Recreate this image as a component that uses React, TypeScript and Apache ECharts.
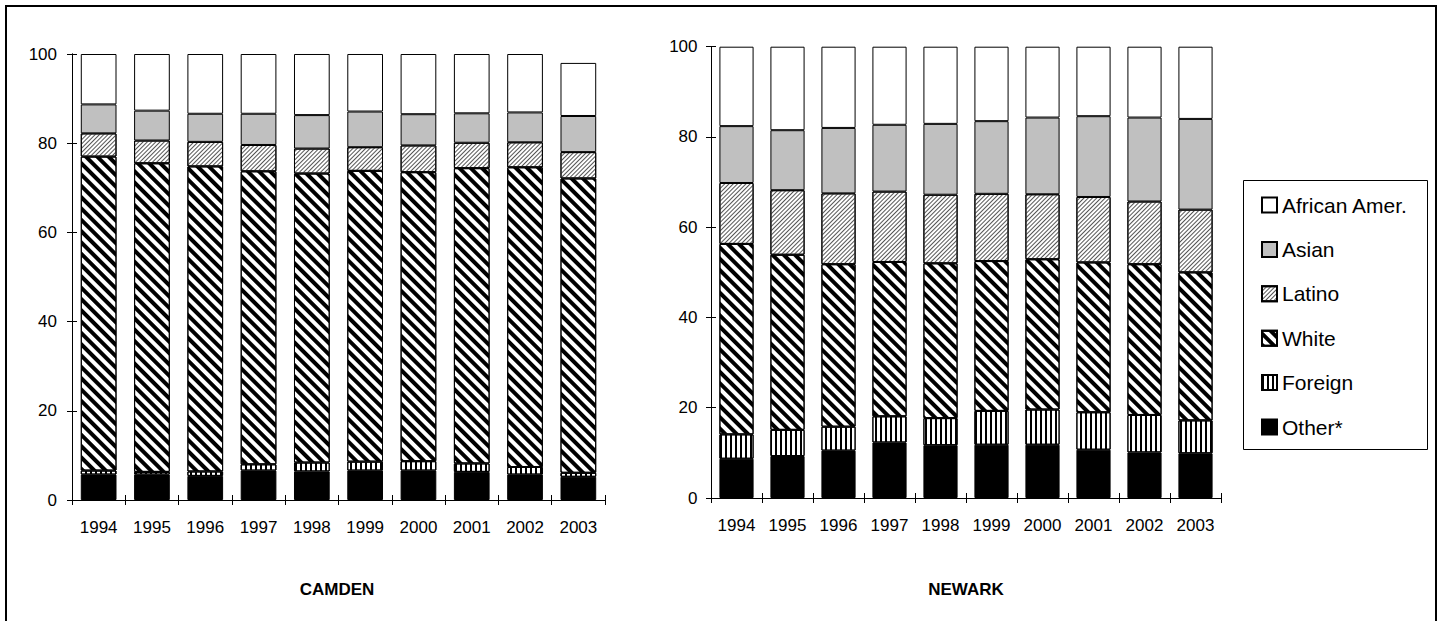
import React, { useEffect, useRef } from "react";
import * as echarts from "echarts";

const years = ["1994", "1995", "1996", "1997", "1998", "1999", "2000", "2001", "2002", "2003"];
const legendOrder = ["African Amer.", "Asian", "Latino", "White", "Foreign", "Other*"];

const camdenOther = [5.7, 5.7, 5.4, 6.6, 6.4, 6.6, 6.6, 6.3, 5.7, 5.2];
const camdenForeign = [0.9, 0.6, 1.0, 1.4, 2.0, 2.0, 2.1, 1.9, 1.7, 0.9];
const camdenWhite = [70.4, 69.2, 68.4, 65.7, 64.8, 65.2, 64.8, 66.2, 67.2, 66.0];
const camdenLatino = [5.2, 5.1, 5.5, 5.9, 5.6, 5.3, 6.0, 5.7, 5.6, 5.9];
const camdenAsian = [6.5, 6.7, 6.3, 7.0, 7.5, 8.0, 7.0, 6.6, 6.7, 8.1];
const camdenAfrican = [11.3, 12.7, 13.4, 13.4, 13.7, 12.9, 13.5, 13.3, 13.1, 11.9];

const newarkOther = [8.7, 9.3, 10.5, 12.3, 11.7, 11.8, 11.8, 10.7, 10.1, 9.9];
const newarkForeign = [5.4, 5.8, 5.3, 5.8, 6.0, 7.5, 7.8, 8.3, 8.3, 7.3];
const newarkWhite = [42.2, 38.8, 36.0, 34.2, 34.3, 33.2, 33.3, 33.2, 33.4, 32.8];
const newarkLatino = [13.5, 14.3, 15.7, 15.6, 15.2, 14.9, 14.4, 14.5, 13.9, 13.9];
const newarkAsian = [12.6, 13.3, 14.5, 14.8, 15.7, 16.1, 17.0, 17.9, 18.6, 20.1];
const newarkAfrican = [17.6, 18.5, 18.0, 17.3, 17.1, 16.5, 15.7, 15.4, 15.7, 16.0];

const FONT = "'Liberation Sans', Arial, sans-serif";

const styleFor: Record<string, any> = {
  "Other*": { color: "#000000" },
  Foreign: {
    color: "#ffffff",
    decal: {
      symbol: "rect",
      symbolSize: 1,
      color: "#000000",
      backgroundColor: "#ffffff",
      dashArrayX: [2, 3],
      dashArrayY: [1, 0],
      rotation: 0,
    },
  },
  White: {
    color: "#ffffff",
    decal: {
      symbol: "rect",
      symbolSize: 1,
      color: "#000000",
      backgroundColor: "#ffffff",
      dashArrayX: [1, 0],
      dashArrayY: [4, 4],
      rotation: Math.PI / 4,
    },
  },
  Latino: {
    color: "#ffffff",
    decal: {
      symbol: "rect",
      symbolSize: 1,
      color: "#555555",
      backgroundColor: "#ffffff",
      dashArrayX: [1, 0],
      dashArrayY: [1, 2],
      rotation: -Math.PI / 4,
    },
  },
  Asian: { color: "#c0c0c0" },
  "African Amer.": { color: "#ffffff" },
};

function makeSeries(gridIdx: number, stack: string, data: Record<string, number[]>) {
  const order = ["Other*", "Foreign", "White", "Latino", "Asian", "African Amer."];
  return order.map((name) => ({
    type: "bar",
    name,
    stack,
    xAxisIndex: gridIdx * 2,
    yAxisIndex: gridIdx * 2,
    barCategoryGap: "33%",
    data: data[name],
    itemStyle: {
      ...styleFor[name],
      borderColor: "#000000",
      borderWidth: 1,
    },
    emphasis: { disabled: true },
  }));
}

function axesFor(gridIdx: number, labelMargin: number) {
  const baseX = {
    type: "category",
    gridIndex: gridIdx,
    data: years,
    position: "bottom",
    axisLine: { show: true, lineStyle: { color: "#000", width: 1 } },
  };
  const baseY = {
    type: "value",
    gridIndex: gridIdx,
    min: 0,
    max: 100,
    interval: 20,
    position: "left",
    splitLine: { show: false },
    axisLine: { show: true, lineStyle: { color: "#000", width: 1 } },
  };
  const xs = [
    {
      ...baseX,
      axisTick: { show: true, length: 5, inside: false, lineStyle: { color: "#000" } },
      axisLabel: { color: "#000", fontSize: 17, fontFamily: FONT, margin: 19 },
    },
    {
      ...baseX,
      axisTick: { show: true, length: 5, inside: true, lineStyle: { color: "#000" } },
      axisLabel: { show: false },
    },
  ];
  const ys = [
    {
      ...baseY,
      axisTick: { show: true, length: 5, inside: false, lineStyle: { color: "#000" } },
      axisLabel: { color: "#000", fontSize: 17, fontFamily: FONT, margin: labelMargin },
    },
    {
      ...baseY,
      axisTick: { show: true, length: 5, inside: true, lineStyle: { color: "#000" } },
      axisLabel: { show: false },
    },
  ];
  return { xs, ys };
}

export default function App() {
  const ref = useRef<HTMLDivElement>(null);

  useEffect(() => {
    document.body.style.margin = "0";
    if (!ref.current) return;
    const chart = echarts.init(ref.current, undefined, { renderer: "svg" });

    const a0 = axesFor(0, 15);
    const a1 = axesFor(1, 13.5);

    const option: any = {
      animation: false,
      backgroundColor: "#ffffff",
      textStyle: { fontFamily: FONT },
      grid: [
        { left: 72, top: 54, width: 533, height: 446, containLabel: false },
        { left: 711, top: 46.7, width: 510, height: 451.3, containLabel: false },
      ],
      xAxis: [...a0.xs, ...a1.xs],
      yAxis: [...a0.ys, ...a1.ys],
      legend: {
        data: legendOrder,
        orient: "vertical",
        left: 1261,
        top: 194,
        padding: 0,
        itemWidth: 15,
        itemHeight: 15,
        itemGap: 22.4,
        icon: "rect",
        selectedMode: false,
        textStyle: { color: "#000", fontSize: 21, fontFamily: FONT, lineHeight: 22 },
      },
      series: [
        ...makeSeries(0, "camden", {
          "Other*": camdenOther,
          Foreign: camdenForeign,
          White: camdenWhite,
          Latino: camdenLatino,
          Asian: camdenAsian,
          "African Amer.": camdenAfrican,
        }),
        ...makeSeries(1, "newark", {
          "Other*": newarkOther,
          Foreign: newarkForeign,
          White: newarkWhite,
          Latino: newarkLatino,
          Asian: newarkAsian,
          "African Amer.": newarkAfrican,
        }),
      ],
      graphic: [
        {
          type: "rect",
          silent: true,
          shape: { x: 6, y: 6, width: 1430, height: 700 },
          style: { fill: "none", stroke: "#000", lineWidth: 2 },
        },
        {
          type: "rect",
          silent: true,
          shape: { x: 1243.5, y: 180.5, width: 184, height: 269 },
          style: { fill: "none", stroke: "#000", lineWidth: 1 },
        },
        {
          type: "text",
          silent: true,
          x: 337,
          y: 589,
          style: {
            text: "CAMDEN",
            fill: "#000",
            font: `bold 17px ${FONT}`,
            textAlign: "center",
            textVerticalAlign: "middle",
          },
        },
        {
          type: "text",
          silent: true,
          x: 966,
          y: 589,
          style: {
            text: "NEWARK",
            fill: "#000",
            font: `bold 17px ${FONT}`,
            textAlign: "center",
            textVerticalAlign: "middle",
          },
        },
      ],
    };

    chart.setOption(option);
    return () => chart.dispose();
  }, []);

  return <div ref={ref} style={{ width: 1437, height: 621 }} />;
}
